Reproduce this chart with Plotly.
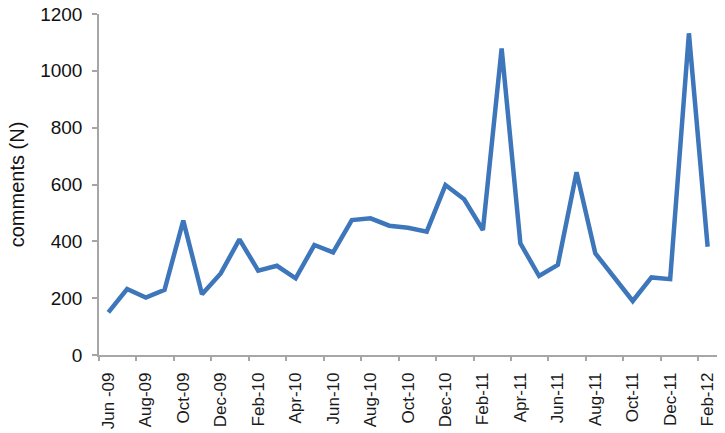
import plotly.graph_objects as go

months = ["Jun-09", "Jul-09", "Aug-09", "Sep-09", "Oct-09", "Nov-09", "Dec-09",
          "Jan-10", "Feb-10", "Mar-10", "Apr-10", "May-10", "Jun-10", "Jul-10",
          "Aug-10", "Sep-10", "Oct-10", "Nov-10", "Dec-10", "Jan-11", "Feb-11",
          "Mar-11", "Apr-11", "May-11", "Jun-11", "Jul-11", "Aug-11", "Sep-11",
          "Oct-11", "Nov-11", "Dec-11", "Jan-12", "Feb-12"]
comments = [150, 232, 202, 229, 473, 214, 287, 407, 297, 314, 270, 387, 361, 475,
            481, 455, 448, 434, 598, 548, 440, 1079, 393, 278, 317, 643, 358, 276,
            190, 273, 267, 1132, 381]
tick_labels = ["Jun -09", "Aug-09", "Oct-09", "Dec-09", "Feb-10", "Apr-10", "Jun-10",
               "Aug-10", "Oct-10", "Dec-10", "Feb-11", "Apr-11", "Jun-11", "Aug-11",
               "Oct-11", "Dec-11", "Feb-12"]

x_idx = list(range(len(months)))
label_pos = x_idx[::2]
boundary_pos = [i - 0.5 for i in label_pos]

FONT = "Liberation Sans, Arial, sans-serif"

fig = go.Figure()
fig.add_trace(go.Scatter(
    x=x_idx, y=comments, mode="lines",
    line=dict(color="#3d76bb", width=4.5, shape="linear"),
    text=months, hoverinfo="text+y", showlegend=False,
))
# invisible trace to activate the tick-mark axis
fig.add_trace(go.Scatter(x=[0], y=[0], xaxis="x2", mode="markers",
                         marker=dict(opacity=0), showlegend=False, hoverinfo="skip"))

fig.update_layout(
    width=725, height=433,
    margin=dict(l=99, r=8, t=14, b=78),
    paper_bgcolor="#ffffff", plot_bgcolor="#ffffff",
    font=dict(family=FONT, color="#111111"),
    xaxis=dict(
        range=[-0.5, len(months) - 0.5], tickmode="array",
        tickvals=label_pos, ticktext=tick_labels, tickangle=-90,
        ticks="", showgrid=False, zeroline=False, automargin=False,
        showline=True, linecolor="#a6a6a6", linewidth=1.5,
        ticklabelstandoff=9,
        tickfont=dict(size=17, family=FONT, color="#1a1a1a"),
    ),
    xaxis2=dict(
        overlaying="x", anchor="y", side="bottom", automargin=False,
        range=[-0.5, len(months) - 0.5], tickmode="array",
        tickvals=boundary_pos, ticktext=[""] * len(boundary_pos),
        ticks="outside", ticklen=5, tickcolor="#a6a6a6", tickwidth=1.5,
        showgrid=False, zeroline=False, showline=False,
    ),
    yaxis=dict(
        range=[0, 1200], tickmode="linear", tick0=0, dtick=200,
        ticks="outside", ticklen=5, tickcolor="#a6a6a6", tickwidth=1.5,
        showgrid=False, zeroline=False, automargin=False,
        showline=True, linecolor="#a6a6a6", linewidth=1.5,
        ticklabelstandoff=6,
        tickfont=dict(size=19, family=FONT, color="#111111"),
        title=dict(text="comments (N)", font=dict(size=20, family=FONT, color="#111111"),
                   standoff=10),
    ),
)

fig.write_html(
    "out.html",
    config={"displayModeBar": False},
    post_script="document.body.style.margin='0';document.body.style.overflow='hidden';",
)
